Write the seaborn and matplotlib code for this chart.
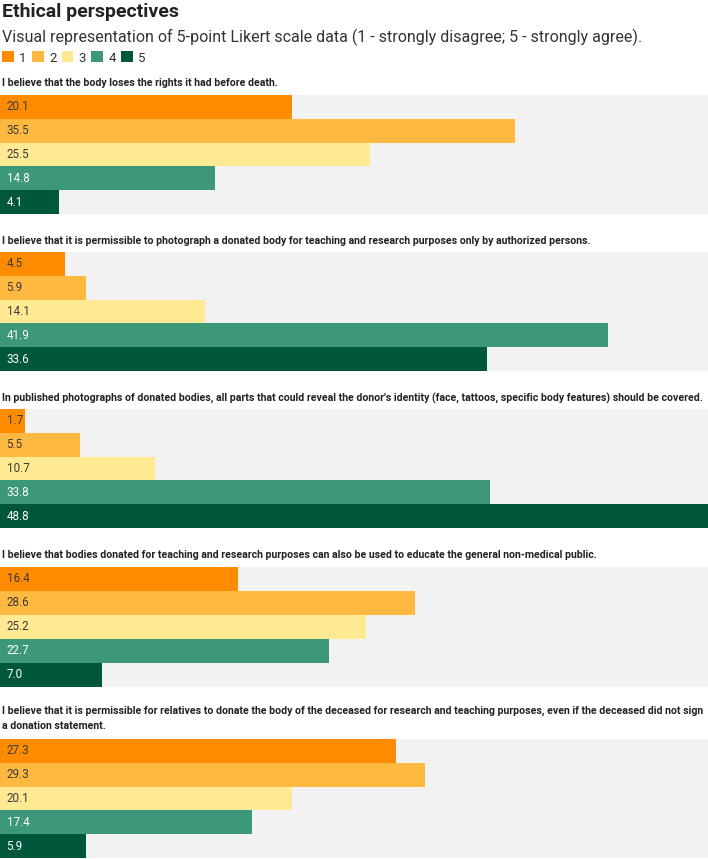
import matplotlib
matplotlib.use("Agg")
import matplotlib.pyplot as plt
from matplotlib.patches import Patch
import seaborn as sns
import pandas as pd

sns.set_theme(style="white")
plt.rcParams['font.family'] = ['Roboto', 'DejaVu Sans']

levels = ["1", "2", "3", "4", "5"]
colors = ["#ff8c00", "#ffb840", "#ffe992", "#3d9779", "#00573c"]
label_colors = ["#3a3a3a", "#3a3a3a", "#3a3a3a", "#ffffff", "#ffffff"]

questions = [
    "I believe that the body loses the rights it had before death.",
    "I believe that it is permissible to photograph a donated body for teaching and research purposes only by authorized persons.",
    "In published photographs of donated bodies, all parts that could reveal the donor's identity (face, tattoos, specific body features) should be covered.",
    "I believe that bodies donated for teaching and research purposes can also be used to educate the general non-medical public.",
    "I believe that it is permissible for relatives to donate the body of the deceased for research and teaching purposes, even if the deceased did not sign\na donation statement.",
]
q1 = [20.1, 35.5, 25.5, 14.8, 4.1]
q2 = [4.5, 5.9, 14.1, 41.9, 33.6]
q3 = [1.7, 5.5, 10.7, 33.8, 48.8]
q4 = [16.4, 28.6, 25.2, 22.7, 7.0]
q5 = [27.3, 29.3, 20.1, 17.4, 5.9]
series = [q1, q2, q3, q4, q5]

W, H = 708, 859
fig = plt.figure(figsize=(W / 100, H / 100), dpi=100)
fig.patch.set_facecolor("white")

fig.text(2 / W, 1 - 12 / H, "Ethical perspectives", fontsize=14, fontweight="bold",
         color="#222222", va="center", ha="left")
fig.text(2 / W, 1 - 37 / H,
         "Visual representation of 5-point Likert scale data (1 - strongly disagree; 5 - strongly agree).",
         fontsize=11.5, color="#333333", va="center", ha="left")

handles = [Patch(facecolor=c, edgecolor="none") for c in colors]
fig.legend(handles, levels, loc="center left", bbox_to_anchor=(2 / W, 1 - 58 / H),
           ncol=5, frameon=False, handlelength=0.9, handleheight=0.9,
           handletextpad=0.4, columnspacing=0.4, fontsize=9.5, labelcolor="#333333",
           borderaxespad=0, borderpad=0)

panels = [(95, 214, 83), (252, 371, 241), (409, 528, 398),
          (567, 687, 555), (739, 858, 713)]
xmax = max(max(s) for s in series)

for (top, bot, ty), q, vals in zip(panels, questions, series):
    if "\n" in q:
        fig.text(2 / W, 1 - (ty - 7) / H, q, fontsize=7.6, fontweight="bold",
                 color="#222222", va="top", ha="left", linespacing=1.6)
    else:
        fig.text(2 / W, 1 - ty / H, q, fontsize=7.6, fontweight="bold",
                 color="#222222", va="center", ha="left")
    ax = fig.add_axes([0, 1 - bot / H, 1, (bot - top) / H])
    df = pd.DataFrame({"level": levels, "value": vals})
    sns.barplot(data=df, x="value", y="level", hue="level", palette=colors,
                orient="h", width=1.0, legend=False, ax=ax, saturation=1,
                edgecolor="none", linewidth=0)
    ax.set_facecolor("#f2f2f2")
    ax.set_xlim(0, xmax)
    ax.set_ylim(4.5, -0.5)
    ax.set_xlabel("")
    ax.set_ylabel("")
    ax.set_xticks([])
    ax.set_yticks([])
    for s in ax.spines.values():
        s.set_visible(False)
    for i, v in enumerate(vals):
        ax.text(0.45, i, f"{v:.1f}", va="center", ha="left", fontsize=8.4,
                color=label_colors[i])

fig.savefig("out.png", dpi=100, facecolor="white")
